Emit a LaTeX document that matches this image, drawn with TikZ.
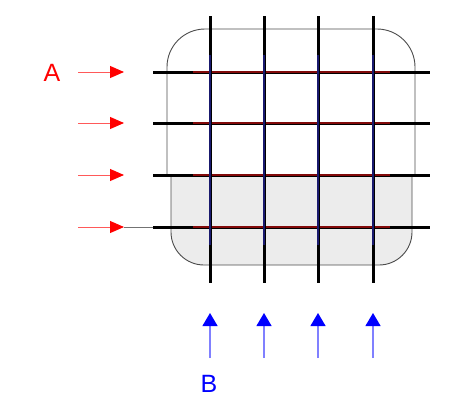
\documentclass[tikz,border=0pt]{standalone}
\usepackage{fontspec}
\setmainfont{Liberation Sans}
\usetikzlibrary{arrows.meta}
\definecolor{boxgray}{HTML}{ECECEC}
\definecolor{hred}{RGB}{130,10,10}
\definecolor{vblue}{RGB}{25,25,110}
\tikzset{
  boxline/.style={draw=black!70, line width=0.9pt},
  gridend/.style={black, line width=3pt},
  hmid/.style={hred, line width=2pt},
  vmid/.style={vblue, line width=2pt},
  redarrow/.style={red!65, line width=1pt, -{Triangle[length=14pt,width=12pt,color=red]}},
  bluearrow/.style={blue!50, line width=1.2pt, -{Triangle[length=13pt,width=15pt,color=blue]}},
  lbl/.style={font=\fontsize{25}{25}\selectfont, inner sep=0pt}
}
\begin{document}
\begin{tikzpicture}[x=1pt,y=-1pt]
\useasboundingbox (0,0) rectangle (449,397);
% upper (white) box
\begin{scope}
\clip (150,15) rectangle (430,175);
\draw[boxline, rounded corners=38pt] (167,29) rectangle (415,230);
\end{scope}
% lower (gray) box
\begin{scope}
\clip (150,175) rectangle (430,290);
\filldraw[boxline, fill=boxgray, rounded corners=33pt] (171,120) rectangle (412,265);
\end{scope}
% horizontal lines
\foreach \i/\y in {1/72,2/123,3/175,4/227}{
  \coordinate (hl\i) at (153,\y);
  \coordinate (hr\i) at (430,\y);
  \coordinate (hml\i) at (193,\y);
  \coordinate (hmr\i) at (390,\y);
  \draw[gridend] (hl\i) -- (hr\i);
  \draw[hmid] (hml\i) -- (hmr\i);
}
% vertical lines
\foreach \i/\x in {1/210,2/264,3/318,4/373}{
  \coordinate (vt\i) at (\x,16);
  \coordinate (vb\i) at (\x,283);
  \coordinate (vmt\i) at (\x,55);
  \coordinate (vmb\i) at (\x,245);
  \draw[gridend] (vt\i) -- (vb\i);
  \draw[vmid] (vmt\i) -- (vmb\i);
}
% red arrows
\foreach \i/\y in {1/72,2/123,3/175,4/227}{
  \coordinate (as\i) at (78,\y);
  \coordinate (ae\i) at (124,\y);
  \draw[redarrow] (as\i) -- (ae\i);
}
\draw[black!55, line width=1pt] (ae4) -- (hl4);
% blue arrows
\foreach \i/\x in {1/210,2/264,3/318,4/373}{
  \coordinate (bs\i) at (\x,358);
  \coordinate (be\i) at (\x,313);
  \draw[bluearrow] (bs\i) -- (be\i);
}
\node[lbl, text=red] (A) at (52,73) {A};
\node[lbl, text=blue] (B) at (209,384) {B};
\end{tikzpicture}
\end{document}
